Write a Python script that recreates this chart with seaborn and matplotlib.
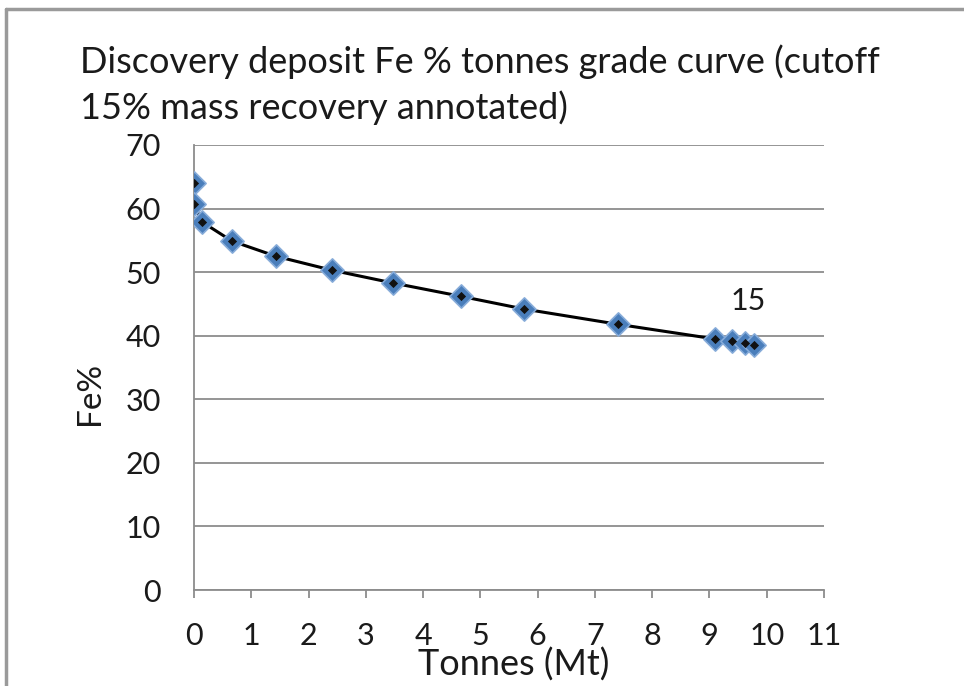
import matplotlib
matplotlib.use("Agg")
import matplotlib.pyplot as plt
import seaborn as sns
import pandas as pd
from matplotlib.lines import Line2D

sns.set_theme(style="white")
plt.rcParams['font.family'] = ['Lato', 'DejaVu Sans']

tonnes = [0.0, 0.0, 0.14, 0.66, 1.43, 2.41, 3.47, 4.66, 5.76, 7.40, 9.09, 9.40, 9.62, 9.78]
fe = [64.0, 60.7, 57.9, 54.9, 52.5, 50.3, 48.3, 46.2, 44.2, 41.8, 39.5, 39.2, 38.8, 38.5]
label_idx = 13
label_text = "15"
x_ticks = list(range(0, 12))
y_ticks = list(range(0, 80, 10))
title_lines = ["Discovery deposit Fe % tonnes grade curve (cutoff", "15% mass recovery annotated)"]

df = pd.DataFrame({"Tonnes": tonnes, "Fe": fe})

fig = plt.figure(figsize=(9.64, 6.86), dpi=100)
ax = fig.add_axes([194/964, 1-590/686, 630/964, 445/686])

txtc = "#1a1a1a"
sns.lineplot(data=df, x="Tonnes", y="Fe", ax=ax, color="black", lw=2.2, sort=False,
             estimator=None, zorder=2)
sns.scatterplot(data=df, x="Tonnes", y="Fe", ax=ax, marker="D", s=140, color="#4a7ebb",
                edgecolor="#86abd9", linewidth=1.2, zorder=3)
sns.scatterplot(data=df, x="Tonnes", y="Fe", ax=ax, marker="D", s=22, color="#111111",
                linewidth=0, zorder=4)

ax.annotate(label_text, (tonnes[label_idx], fe[label_idx]), xytext=(-4, 32),
            textcoords="offset points", ha="center", va="center", fontsize=22, color=txtc)

ax.set_xlim(0, 11)
ax.set_ylim(0, 70)
ax.set_xticks(x_ticks)
ax.set_yticks(y_ticks)
ax.tick_params(axis="x", direction="out", length=6, width=1.3, color="#8c8c8c",
               labelsize=22, pad=17, labelcolor=txtc)
ax.tick_params(axis="y", length=0, labelsize=22, pad=24, labelcolor=txtc)
ax.xaxis.set_ticks_position("bottom")
ax.grid(axis="y", color="#8c8c8c", lw=1.3)
ax.grid(axis="x", visible=False)
for s in ["top", "right"]:
    ax.spines[s].set_visible(False)
for s in ["left", "bottom"]:
    ax.spines[s].set_color("#8c8c8c")
    ax.spines[s].set_linewidth(1.3)

ax.set_xlabel("Tonnes (Mt)", fontsize=26, color=txtc)
ax.xaxis.set_label_coords((514-194)/630, (590-665)/445)
ax.xaxis.label.set_va("center")
ax.set_ylabel("Fe%", fontsize=24, color=txtc)
ax.yaxis.set_label_coords((90-194)/630, (590-393)/445)
ax.yaxis.label.set_va("center")

fig.text(80/964, 1-62/686, title_lines[0], fontsize=26, ha="left", va="center", color=txtc)
fig.text(80/964, 1-108/686, title_lines[1], fontsize=26, ha="left", va="center", color=txtc)

fig.add_artist(Line2D([6/964, 6/964], [0, 1-9/686], color="#9a9a9a", lw=2.5, transform=fig.transFigure))
fig.add_artist(Line2D([6/964, 1], [1-9/686, 1-9/686], color="#9a9a9a", lw=2.5, transform=fig.transFigure))

fig.savefig("out.png", dpi=100)
